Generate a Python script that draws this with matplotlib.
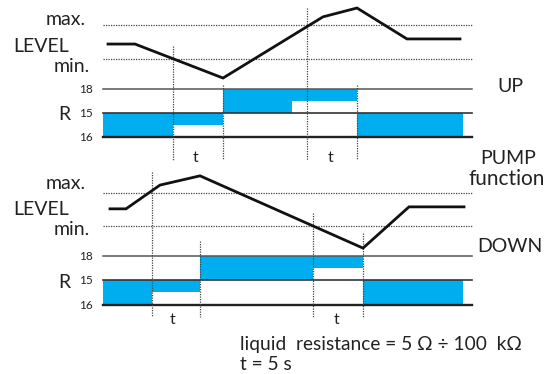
import matplotlib.pyplot as plt

# time axis in seconds (t = 5 s), level in units where min = 0 and max = 1
T_DELAY = 5.0
T_END = 36.9

# UP function
up_level_t = [0.5, 3.2, 12.0, 22.0, 25.4, 30.4, 35.7]
up_level_v = [0.44, 0.44, -0.56, 1.24, 1.50, 0.59, 0.59]
up_switch_t = [7.0, 12.0, 20.4, 25.4]
up_switch_top = [0.38, -0.76, 1.50, -0.76]
# (start, end, band, fill)  band: 1 = 18..15, 0 = 15..16 ; fill: 1 = full, 0.5 = upper half
up_bands = [(0.0, 7.0, 0, 1.0),
            (7.0, 12.0, 0, 0.5),
            (12.0, 18.9, 1, 1.0),
            (18.9, 25.4, 1, 0.5),
            (25.4, 36.0, 0, 1.0)]
up_t_labels = [9.3, 22.8]

# DOWN function
down_level_t = [0.7, 2.3, 5.7, 9.7, 26.0, 30.6, 36.1]
down_level_v = [0.52, 0.52, 1.24, 1.52, -0.67, 0.58, 0.58]
down_switch_t = [4.9, 9.7, 21.0, 26.0]
down_switch_top = [1.64, -0.45, 0.39, -0.21]
down_bands = [(0.0, 4.9, 0, 1.0),
              (4.9, 9.7, 0, 0.5),
              (9.7, 21.0, 1, 1.0),
              (21.0, 26.0, 1, 0.5),
              (26.0, 36.0, 0, 1.0)]
down_t_labels = [7.0, 23.4]

r_labels = ["18", "15", "16"]

BLUE = "#00aeef"
W, H = 551, 374
FONT = ["Lato", "DejaVu Sans"]


def panel(fig, py_top, py_bot, py_max, py_min):
    ax = fig.add_axes([0, 1 - py_bot / H, 1, (py_bot - py_top) / H])
    scale = py_min - py_max
    ax.set_ylim((py_min - py_bot) / scale, (py_min - py_top) / scale)
    ax.set_xlim(-10.3, (W - 103) / 10.0)
    ax.axis("off")
    return ax


def draw(ax, lt, lv, st, stop, bands, rows, bottom):
    ax.plot([0, T_END], [1, 1], color="#444", lw=0.9, ls=(0, (1, 1)))
    ax.plot([0, T_END], [0, 0], color="#444", lw=0.9, ls=(0, (1, 1)))
    for (t0, t1, band, fill) in bands:
        top = rows[1 - band]
        low = rows[2 - band]
        h = (top - low) * fill
        ax.bar(t0, h, width=t1 - t0, bottom=top - h, align="edge",
               color=BLUE, lw=0)
    for row, lw, c in zip(rows, [1.1, 1.2, 1.7], ["#555", "#333", "#222"]):
        ax.plot([0, T_END], [row, row], color=c, lw=lw)
    for t, top in zip(st, stop):
        ax.plot([t, t], [top, bottom], color="#444", lw=0.9, ls=(0, (1, 1)))
    ax.plot(lt, lv, color="#111", lw=2.0, solid_joinstyle="miter")


fig = plt.figure(figsize=(W / 100, H / 100), dpi=100)

ax1 = panel(fig, 0, 170, 25, 59)
draw(ax1, up_level_t, up_level_v, up_switch_t, up_switch_top, up_bands,
     [-0.88, -1.59, -2.29], -2.97)
ax2 = panel(fig, 170, 374, 193, 226)
draw(ax2, down_level_t, down_level_v, down_switch_t, down_switch_top, down_bands,
     [-0.91, -1.64, -2.39], -2.76)


def label(x, y, s, size=14, ha="left"):
    fig.text(x / W, 1 - y / H, s, ha=ha, va="baseline", fontsize=size,
             family=FONT, color="#222")


for dy in [0, 166]:
    label(86, 25 + dy * 0.99, "max.", ha="right")
    label(13, 52 + dy * 0.98, "LEVEL")
    label(90, 72 + dy * 0.98, "min.", ha="right")

label(70, 120, "R", ha="right")
label(70, 288, "R", ha="right")
for y, s in zip([93, 117, 141], r_labels):
    label(93, y, s, size=8.5, ha="right")
for y, s in zip([260, 284, 309], r_labels):
    label(93, y, s, size=8.5, ha="right")

for t in up_t_labels:
    label(103 + t * 10, 162, "t", size=11.5, ha="center")
for t in down_t_labels:
    label(103 + t * 10, 324, "t", size=11.5, ha="center")

label(510, 92, "UP", ha="center")
label(508, 164, "PUMP", ha="center")
label(507, 185, "function", size=15, ha="center")
label(510, 252, "DOWN", ha="center")
label(240, 350, "liquid  resistance = 5 \u03a9 \u00f7 100  k\u03a9", size=13.8)
label(240, 370, "t = 5 s", size=13.8)

fig.savefig("out.png", dpi=100)
